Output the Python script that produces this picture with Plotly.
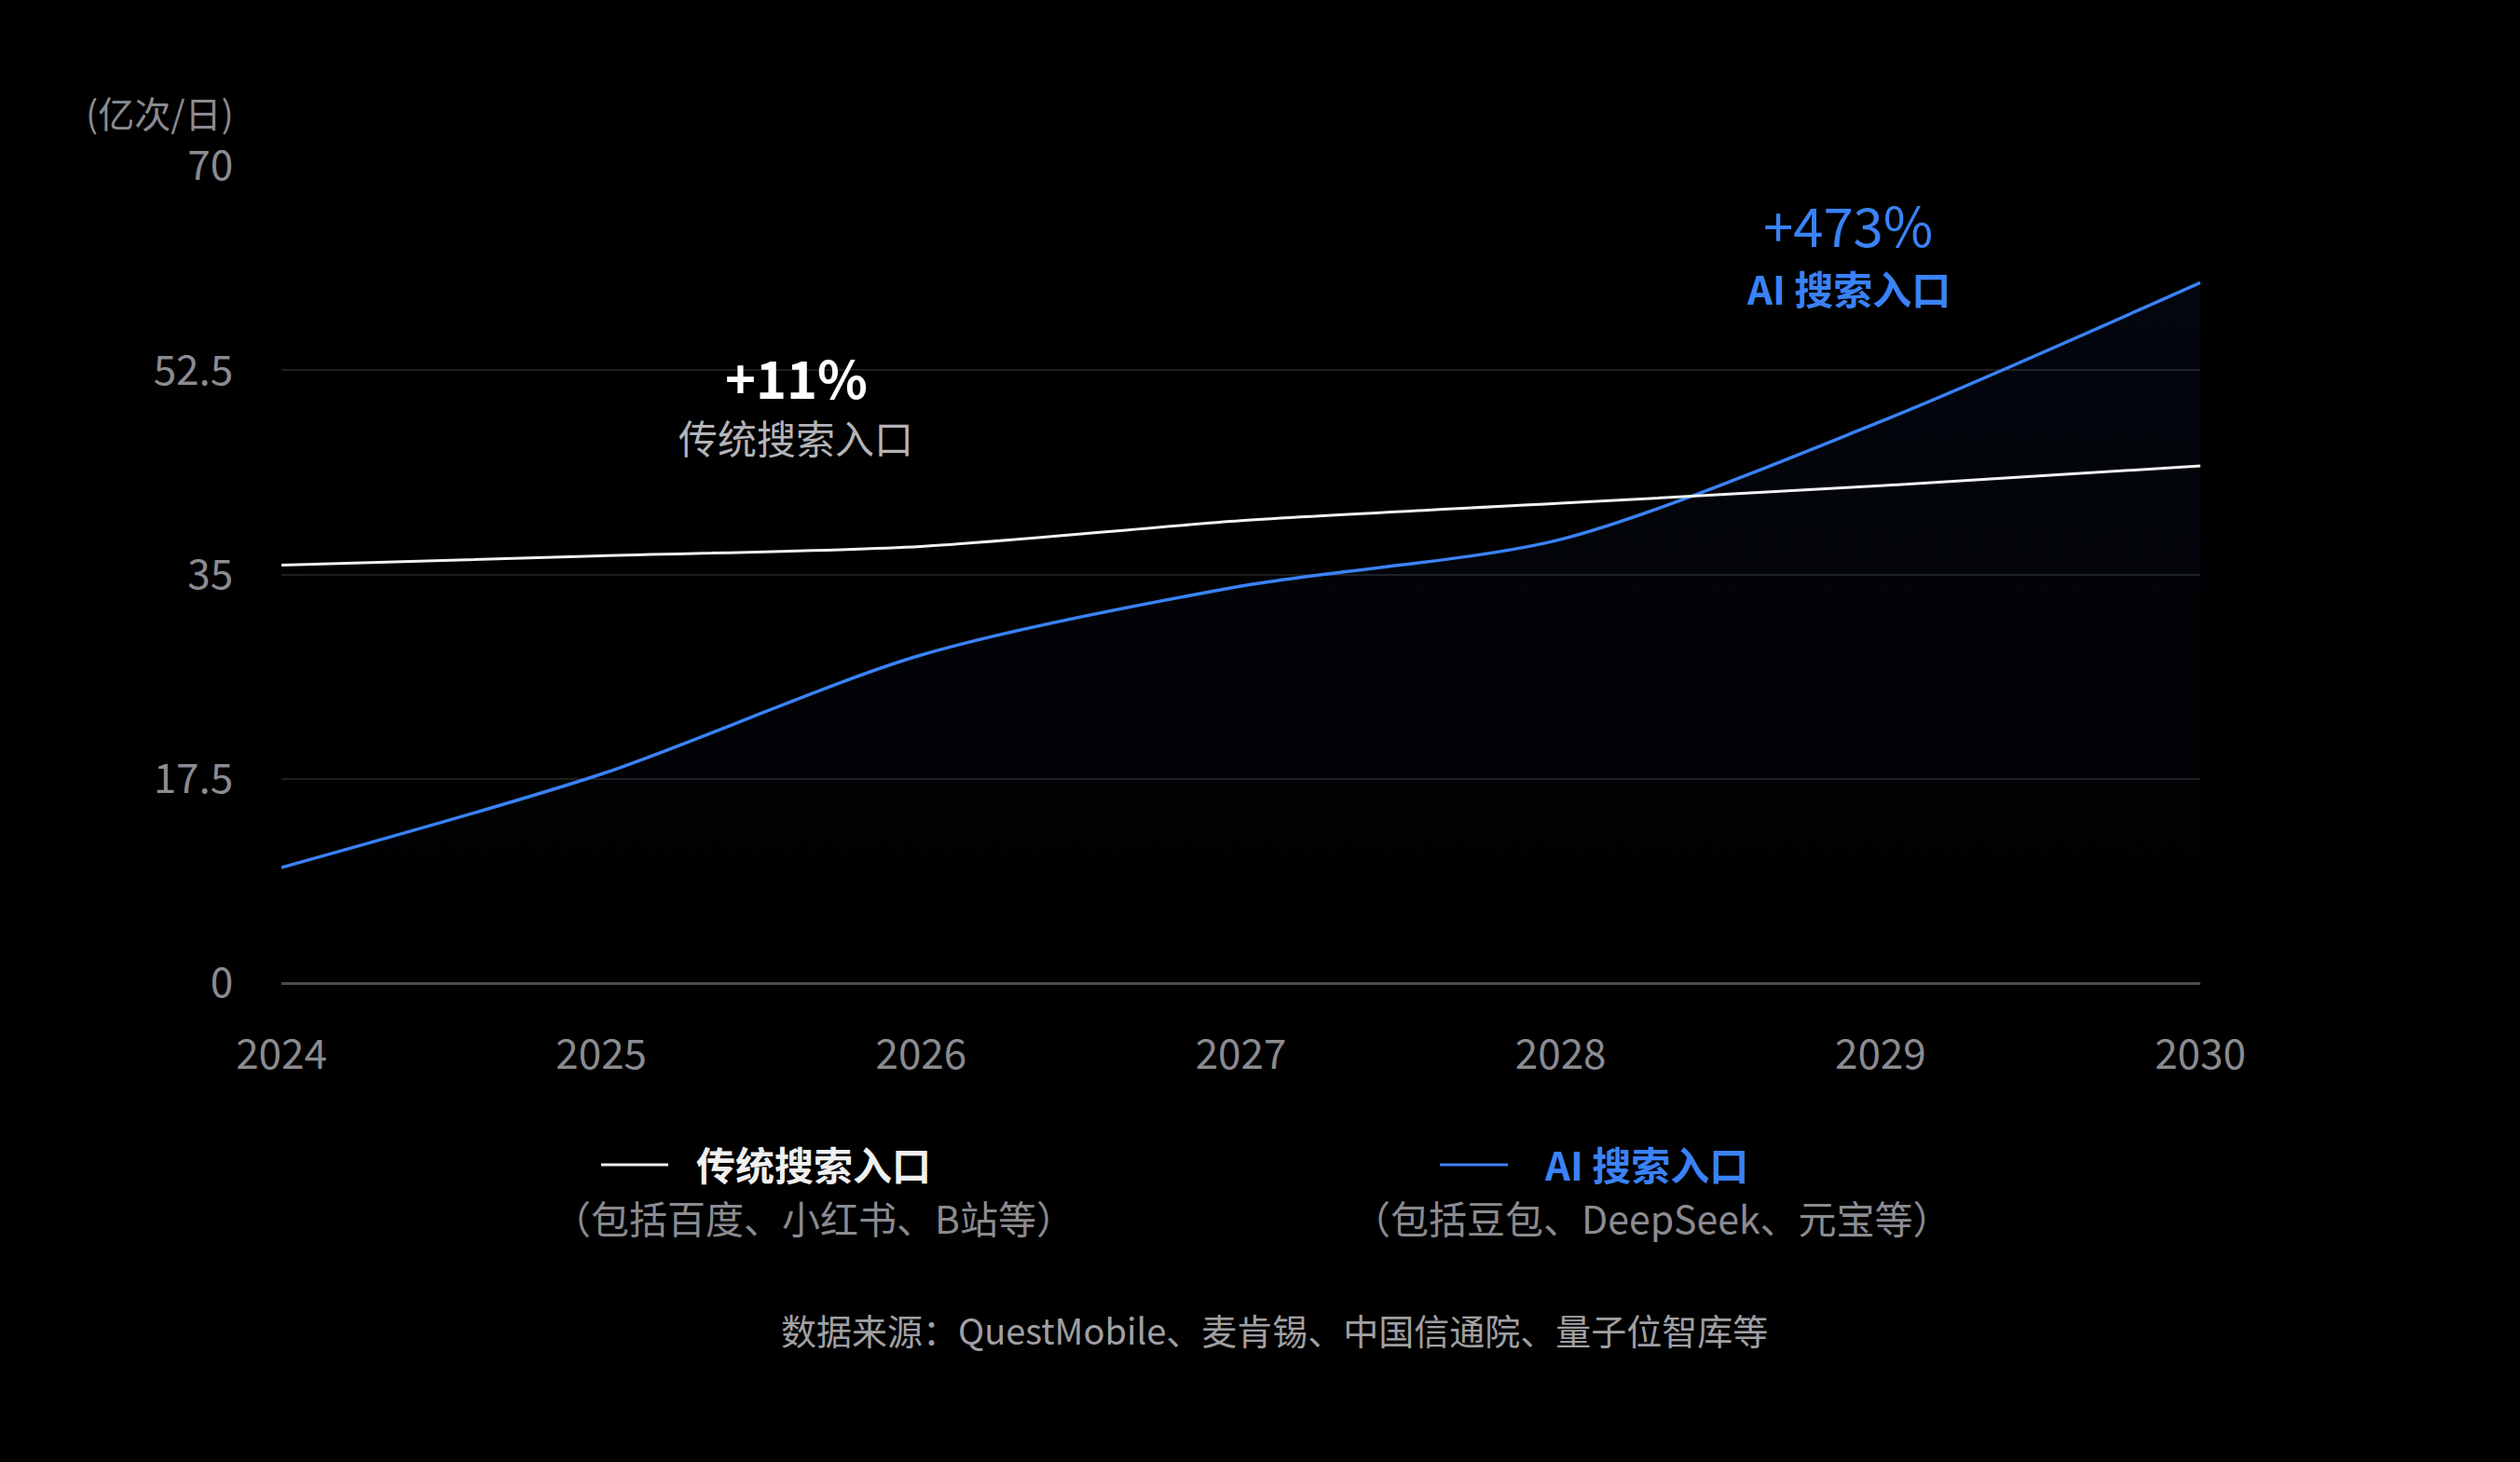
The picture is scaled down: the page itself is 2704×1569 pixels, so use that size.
import plotly.graph_objects as go

years = [2024, 2025, 2026, 2027, 2028, 2029, 2030]
traditional = [35.8, 36.6, 37.4, 39.6, 41.1, 42.6, 44.3]
ai_search = [9.9, 17.9, 28.1, 34.0, 38.0, 48.1, 60.0]
y_ticks = [0, 17.5, 35, 52.5, 70]
y_tick_text = ['0', '17.5', '35', '52.5', '70']

W, H = 2704, 1569
L, R, T, B = 302, 2361, 178, 1055
FONT = 'Noto Sans CJK SC'
BLUE = '#3a82f7'
GREY = '#8b8b91'


def px(x, y):
    # pixel position -> paper coords
    return (x - L) / (R - L), (B - y) / (B - T)


fig = go.Figure()

fig.add_trace(go.Scatter(
    x=years, y=ai_search, mode='lines',
    line=dict(color=BLUE, width=3.5, shape='spline', smoothing=0.8),
    fill='tozeroy',
    fillgradient=dict(type='vertical',
                      colorscale=[[0, 'rgba(40,90,200,0)'], [1, 'rgba(40,90,200,0.07)']]),
    hoverinfo='skip', showlegend=False
))
fig.add_trace(go.Scatter(
    x=years, y=traditional, mode='lines',
    line=dict(color='#f2f2f2', width=3, shape='spline', smoothing=0.8),
    hoverinfo='skip', showlegend=False
))

notes = [
    (854, 403, '<b>+11%</b>', 56, 'white', 'center'),
    (854, 468, '传统搜索入口', 42, '#b4b4b8', 'center'),
    (1983, 240, '+473%', 58, BLUE, 'center'),
    (1983, 308, '<b>AI 搜索入口</b>', 42, BLUE, 'center'),
    (745, 1248, '<b>传统搜索入口</b>', 42, '#f0f0f0', 'left'),
    (873, 1306, '（包括百度、小红书、B站等）', 41, GREY, 'center'),
    (1655, 1248, '<b>AI 搜索入口</b>', 42, BLUE, 'left'),
    (1772, 1306, '（包括豆包、DeepSeek、元宝等）', 41, GREY, 'center'),
    (1367, 1426, '数据来源：QuestMobile、麦肯锡、中国信通院、量子位智库等', 38, '#a0a0a4', 'center'),
    (253, 120, '(亿次/日)', 39, GREY, 'right'),
]
for x, y, text, size, color, anchor in notes:
    ax, ay = px(x, y)
    fig.add_annotation(x=ax, y=ay, xref='paper', yref='paper', text=text,
                       showarrow=False, xanchor=anchor, yanchor='middle',
                       font=dict(family=FONT, size=size, color=color))

for x0, x1, color in [(645, 717, '#f2f2f2'), (1545, 1618, BLUE)]:
    a0, ay = px(x0, 1250)
    a1, _ = px(x1, 1250)
    fig.add_shape(type='line', xref='paper', yref='paper', x0=a0, x1=a1, y0=ay, y1=ay,
                  line=dict(color=color, width=3))

fig.update_layout(
    width=W, height=H,
    margin=dict(l=L, r=W - R, t=T, b=H - B),
    paper_bgcolor='black', plot_bgcolor='black',
    font=dict(family=FONT, color=GREY, size=44),
    xaxis=dict(range=[2024, 2030], tickvals=years, showgrid=False, zeroline=False,
               showline=False, ticks='outside', ticklen=38, tickcolor='rgba(0,0,0,0)',
               tickfont=dict(size=44, color=GREY)),
    yaxis=dict(range=[0, 70], tickvals=y_ticks, ticktext=y_tick_text,
               showgrid=True, gridcolor='#1f1f22', gridwidth=2,
               zeroline=True, zerolinecolor='#4a4a4d', zerolinewidth=3,
               ticks='outside', ticklen=42, tickcolor='rgba(0,0,0,0)',
               tickfont=dict(size=44, color=GREY)),
)

fig.write_html('out.html', config={'displayModeBar': False},
               post_script="document.body.style.margin='0';document.body.style.background='black';document.body.style.overflow='hidden';")
